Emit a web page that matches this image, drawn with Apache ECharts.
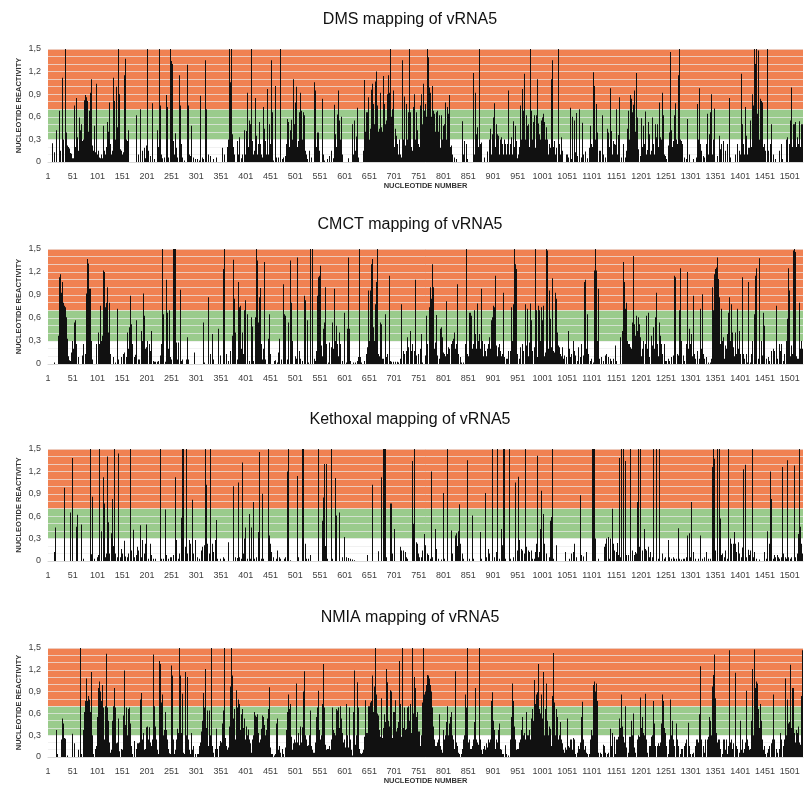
<!DOCTYPE html>
<html>
<head>
<meta charset="utf-8">
<script src="https://cdn.jsdelivr.net/npm/echarts@6/dist/echarts.min.js"></script>
<style>html,body{margin:0;padding:0;background:#fff}#chart{width:807px;height:786px}</style>
</head>
<body>
<div id="chart"></div>
<script>
// Panel titles
const panelTitles = ['DMS mapping of vRNA5', 'CMCT mapping of vRNA5', 'Kethoxal mapping of vRNA5', 'NMIA mapping of vRNA5'];
// Tick labels
const xTickLabels = ['1','51','101','151','201','251','301','351','401','451','501','551','601','651','701','751','801','851','901','951','1001','1051','1101','1151','1201','1251','1301','1351','1401','1451','1501'];
const yTickLabels = ['0','0,3','0,6','0,9','1,2','1,5'];
// Each value = reactivity of a 2-nucleotide bin, starting at nucleotide 1 (one row per 50 nt)
const binSize = 2;
const dmsValues = [
0,0,0,0,0.25,0,0.13,0,0.42,0,0,0.68,0.15,0,1.12,0.3,0,1.5,0.39,0.22,0.2,0.18,0.12,0.11,0.05,
0.05,0.75,0.2,0.85,0.33,0.15,0.59,0.42,0.5,0.28,0.3,0.82,0.89,0.86,0.81,0.4,0.68,0.92,1.1,0.22,0.1,0.15,0.48,0.13,1.04,
0.1,0.15,0.06,0.05,0.1,0.05,0.48,0.15,0.1,0.2,0.53,0.4,0.79,0.24,0.1,0.15,1.12,0.81,0.3,1.0,0.46,1.5,0.9,0.17,0.15,
0.1,0.13,1.15,1.37,0.3,0.28,0.42,0,0,0,0,0,0,0,0.62,0,0.1,0,0.7,0,0.15,0,0.19,0.05,0.22,
1.5,0.15,0,0.08,0,0.78,0,0.04,0,0,0.42,0.2,1.5,0.75,0.1,0.05,0,0.06,0,0.89,0.73,0.06,0,1.5,1.34,
1.3,0.28,0.1,0.38,0.19,0.06,0,1.15,0.75,0.24,0,0.06,0,0.02,0,0,1.29,0.75,0.1,0.08,0.48,0,0.06,0,0.04,
0,0.04,0,0.02,0.88,0,0.06,0.04,0,1.35,0.7,0,0.1,0,0.08,0,0,0.04,0,0,0.06,0,0,0,0,
0,0.19,0,0.1,0,0,0.2,0.3,1.5,1.06,1.5,0.37,0.2,0.1,0,0,0.28,0.1,0.33,0,0.05,0.1,0,0.42,0.1,
0.41,0.92,0.2,0.55,0.5,1.5,0.28,0.1,0.15,0.85,0.35,0.1,0.24,0.53,0.24,0.1,0.06,0.73,0.44,0.28,0.1,0.97,0.1,0.5,0.24,
0.2,1.35,0.66,0.02,0,1.01,0.06,0,0.06,0,1.5,0,0.04,0.06,0,0.08,0.24,0.57,0.53,0.2,0.42,0.56,0.3,1.1,0.5,
0.79,1.0,0.2,0.28,0.66,0.92,0.68,0.3,0.66,0.62,0.15,0.1,0.04,0,0.15,0,0.06,0,0,1.06,0.95,0.2,0.39,0.39,0.15,
0,0,0.84,0.1,0.02,0,0,0.04,0,0.08,0,0.15,0,0.05,0.76,0.37,0.2,0.63,0.95,0.55,0.3,0.6,0.1,0,0,
0,0,0,0.05,0,0,0,0.5,0.1,0.55,0.15,0.34,0.72,0,0.06,0,0,0,0,0.15,1.09,0.4,0.66,0.66,0.86,
0.3,0.44,0.96,1.04,0.77,0.5,1.07,1.2,0.75,0.4,0.44,0.92,0.46,0.4,1.14,0.77,0.5,0.55,0.9,1.15,0.92,1.5,0.6,0.7,0.95,
0.2,0.44,0.35,0.24,0.1,0.3,0.1,0.06,1.35,0.3,0.87,0.22,0.77,0.3,0.66,1.5,0.66,0.2,0.15,0.73,0.9,0.3,0.66,0.42,0.24,
0.2,0.75,0.9,0.5,1.04,0.68,0.77,0.6,1.5,1.39,0.99,0.92,0.6,1.01,0.68,0.64,0.4,0.66,0.68,0.4,0.62,0.19,0.62,0.3,0.48,
0.5,0.79,0.3,0.57,0.73,0.64,0.89,0.2,0.22,0.1,0,0.06,0,0.04,0,0,0,0,0,0.54,0.1,0.28,0,0.24,0.04,
0,0,0,0,0,1.18,0.1,0.92,0.37,0.46,0.2,1.5,0.24,0.26,0,0,0.06,0,0,0.14,0,0.3,0.44,0.1,0.37,
0.59,0.78,0.2,0.5,0.37,0.35,0.1,0.3,0.33,0.24,0.1,0.3,0.24,0.1,0.24,0.95,0.1,0.24,0.33,0.1,0.54,0.2,0.48,0.28,0.05,
0.1,0.2,0.75,0.3,0.97,0.68,1.17,0.3,0.62,0.48,0.5,0.2,1.5,0.68,0.3,0.53,0.62,0.19,0.3,0.62,1.1,0.51,0.37,0.3,0.55,
0.59,0.64,0.53,0.3,0.46,0.3,0.1,0.24,0.19,1.1,1.35,0.2,0.28,0.1,0.19,0,1.5,0.24,0.1,0.33,0.15,0,0,0,0.1,
0.1,0.06,0,0.72,0.04,0.6,0,0.55,0.13,0.65,0.08,0,0.7,0,0.06,0.52,0.1,0,0.14,0,0.05,0,0.19,0.48,0.24,
0.2,1.19,1.01,0.3,0.77,0.39,0,0.15,0.15,0,0.62,0.1,0,0.06,0,0.44,0.39,0.2,0.98,0.41,0.1,0.28,0.24,0.23,0.7,
0.1,0.36,0.86,0,0.06,0,0.24,0,0.06,0,0.15,0.44,0.68,0.3,0.89,0.84,0.66,0.76,0.95,0.4,1.18,0.59,0.17,0,0.08,
0.58,0.2,0.48,0.24,0.67,0.1,0.16,0.53,0.37,0.1,0.15,0.59,0.24,0.1,0.5,0.33,0.5,0.2,0.79,0.33,0.3,0.92,0.62,0.1,0.08,
0.04,0,0.22,0.39,1.46,0.42,0.2,0.28,0.62,0.78,0.3,0.24,1.15,1.5,0.3,0.28,0.24,0,0.06,0,0.04,0.57,0,0.1,0,
0,0,0.04,0,0,0.06,0.77,0.3,0.98,0.24,0.15,0,0.08,0.06,0,0.24,0.64,0.1,0.37,0.66,0.9,0.1,0.3,0.71,0.5,
0,0,0.08,0,0.35,0.17,0.24,0,0.28,0,0.15,0,0.24,0,0.85,0.06,0,0,0,0,0.1,0,0.24,0,0.15,
0.1,1.17,0.5,0.24,0.1,0.73,0.35,0.1,0.19,0.19,0.55,0.2,0.9,0.75,1.5,1.3,1.5,0.64,1.48,0.3,0.84,0.81,0.79,0.2,0.24,
0.15,0,1.5,0.15,0,0.24,0.5,0,0.1,0,0.04,0,0,0,0.15,0,0.24,0.04,0,0,0,0.3,0.33,0,0.24,
0.55,0.99,0.2,0.5,0.5,0.53,0.2,0.33,0.24,0.54,0.2,0.5,0.5
];
const cmctValues = [
0,0,0,0,0,0,0.02,0,0,0,0.37,1.13,1.17,0.93,1.07,0.8,0.76,0.74,0.61,0.33,0.1,0.05,0.04,0.15,0.3,
0.2,0.54,0.57,0.26,0,0.09,0,0,0,0.11,0.26,0,0.13,0.92,1.37,1.31,0.98,0.98,0.3,0.06,0,0,0,0,0.26,
0,0.41,0.26,0.76,0.3,0.37,1.22,1.2,0.74,0.8,1.0,0.41,0.8,0.13,0,0,0.09,0,0.02,0,0.72,0.06,0,0,0.09,
0,0.13,0.15,0,0.09,0.41,0.2,0.48,0.89,0.52,0.26,0,0.09,0.12,0.57,0,0.06,0.06,0,0.43,0.3,0.92,0.63,0.2,0.22,
0.3,0,0.26,0.17,0.43,0,0.04,0.03,0.03,0,0.03,0.04,0,0.11,0.26,1.5,0.65,0,0.03,1.1,0.67,0.2,0.7,0.09,0.06,
0,1.5,1.5,1.5,0.28,0.06,0.28,0,0.97,0.04,0,0.06,0,0,0,0.06,0.35,0.06,0,0,0,0,0,0.15,0,
0,0,0,0,0,0,0,0.54,0.02,0,0,0,0.87,0,0.13,0,0.39,0.06,0,0,0,0,0.46,0,0.11,
0,0,1.24,1.5,0,0.13,0,0.04,0,0.17,0,0.37,1.36,0.85,0.41,0,0.06,1.07,0.74,0.76,0.2,0.41,0.13,0.7,0.83,
0,0.65,0,0.04,0,0.61,0.49,0.04,0,0.61,1.5,1.35,0.54,0.87,0.99,0.26,0.06,0.2,1.33,0.06,0,0,0.33,0.65,0.13,
0,0,0,0,0.04,0.05,0,0.02,0.15,0.33,0,0.06,0,1.04,0.65,0.63,0,0.06,0.54,0,1.35,0.8,0.3,0,0,
0.1,0.07,1.39,0,0.17,0.07,0,0.04,0,0.89,0.83,0,0.57,0.02,0,1.5,0,1.5,0,0.07,0.04,0.17,0.89,1.13,1.15,
1.28,0.24,0.1,0.46,0.54,1.0,0.26,0,0.02,0.28,0,0.22,0.54,0.2,0.98,0.3,0.5,0.26,0.1,0.41,0.26,0,0.04,0,0.67,
0,0.02,0.46,1.39,0.46,0.04,0,0,0.02,0,0.02,0,0.04,0,0.09,1.5,0.09,0.02,0,0,0.04,0,0.13,0.22,0.96,
0.3,0.96,1.3,1.37,0.48,0.3,0.78,1.07,1.5,0.13,0.1,0.54,0.52,0.07,0.07,0,0.65,0.09,0.13,0,1.15,0.04,0.03,0,0.03,
0,0.03,0,0.03,0.02,0,0.07,0.78,0,0.17,0.13,0,0.17,0.35,0.22,0,0.43,0.17,0.26,0,0.17,1.1,0.11,0,0.13,
0,0.2,0.39,0.02,0,0,0.11,0.63,0.26,0,0.74,1.0,0.85,1.3,1.0,0.2,0.28,0.64,0.11,0,0.07,0.46,0.48,0.35,0.15,
0.13,0.1,0.82,0.13,0,0.22,0.2,0,0.26,0.3,0.33,0.41,0.2,0.26,1.04,0.13,0,0.09,0.02,0,0.02,0,0.26,1.5,0.13,
0.1,0.67,0.67,0.63,0.2,0.26,0.7,0.39,0.2,0.79,0.3,0.39,0.2,0.98,0.3,0.1,0.26,0.17,0.1,0.2,0.26,0.35,0.2,0.57,0.61,
0.76,0.74,1.15,0.24,0.1,0.22,0.26,0.17,0.1,0.13,0.93,0.09,0,0.07,0.07,0.17,0,0.17,0.74,0.3,0.78,1.5,1.3,1.24,0.13,
0,0.07,0.22,0,0.26,0.17,0,0.78,0.24,0.72,0.1,0.28,0.79,0.57,0.17,0,0.22,1.5,0.7,0.2,0.09,0.76,0.7,0.3,0.74,
0.57,0.76,0.1,0.15,1.5,1.48,0.2,0.96,0.59,0.22,1.12,0.17,0.15,0.93,0.85,0.41,0.24,0.22,0.13,0.1,0.22,0.07,0.11,0,0.09,
0,0.43,0.2,0.09,0.13,0,0.3,0.17,0.11,0,0.04,0.22,0,0.09,0.26,0,0.11,1.07,1.1,0.2,0.65,0.13,0,0.04,0.07,
0,0.02,1.22,1.5,1.22,0.3,0.98,0.07,0,0.09,0,0.04,0,0.11,0.13,0,0.09,0,0.07,0.04,0,0.07,0,0.24,0.04,
0,0,0,0.35,0,0.43,1.33,1.07,0.72,0.61,0.8,0.3,0.26,0.26,0.22,0.2,0.54,1.41,0.52,0.37,0.63,0.43,0.61,0.52,0.35,
0.1,0.2,0.3,0,0.26,0.63,0.2,0.67,0.09,0,0.37,0.24,0.48,0.2,0.61,0.93,0.26,0.1,0.54,0.37,0.26,0.13,0,0.26,0.04,
0.04,0,0.07,0.04,0,0.09,0,0.11,1.15,1.13,0,0.13,0.11,0.7,1.25,0.3,0,0.11,0.04,0,0.26,1.2,0.2,0.46,0.26,
0.39,0.1,0.89,0.13,0.07,0,0.17,0,0.07,0.72,0.2,0.91,0.13,0.07,0,0.09,0,0.02,0,0.02,0.07,1.0,0.7,0.9,1.17,
1.24,1.26,1.39,1.11,0.87,0.26,0.72,0.3,0.35,0.07,0.24,0.2,0.39,0.67,0.87,0.3,0.78,0.41,0.22,0.1,0.41,0.13,0.72,0.2,0.43,
0.13,0,1.13,0.13,0.07,0,0.13,0.02,1.07,0,0.02,0.13,0.3,0,0.65,1.15,1.25,0,0.07,1.38,0,0.3,0.11,0.67,0.5,
0,0.07,0,0.09,0.04,0,0.17,0,0.2,0.17,0,0.76,0.07,0,0.26,0.17,0.26,0,0.04,0.13,0,0.3,0.59,1.25,0.96,
0.1,0.24,0.13,1.48,1.5,1.46,0.1,0.07,0.07,0.8,0.2,0.3,0.2
];
const kethoxalValues = [
0,0,0,0,0,0,0.12,0.45,0,0,0,0,0,0,0,0,0.98,0,0,0,0,0,0.65,0,1.38,
0,0,0,0.46,0.62,0,0,0,0.49,0,0.03,0,0,0,0,0,0,1.5,0.09,0.86,0.36,0,0.03,0,0,
0.05,0.08,1.5,0,0.4,0,1.12,0.77,0.05,0.1,1.4,0.52,0.1,0,0.37,0.83,0.2,1.5,0.1,0,0.05,1.44,0,0.05,0.16,
0.1,0,0.27,0.06,0,0.05,0.1,0,1.5,0.14,0,0.42,0.05,0,0.08,0.19,0.14,0,0.48,0.05,0.28,0,0.1,0.23,0.49,
0,0.03,0,0.23,0.08,0,0.03,0,0.03,0,0,0,0,1.5,0.03,0,0.03,0,0.69,0.08,0,0.03,0,0.05,0.05,
0,0.08,0,1.12,0.28,0,0.03,0.1,0,0.58,0.1,1.5,1.5,0,0.19,1.5,0.1,0,0.28,0.23,0,0.82,0.1,0,0.28,
0,0.05,0,0.03,0,0.14,0.19,0,0.21,1.5,1.02,0.23,0,0.1,1.5,0,0.23,0.12,0,0.28,0.55,0.03,0,0,0.03,
0,0,0.05,0.03,0,0,0,0.25,0,0,0,0,1.0,0,0.05,0,0.04,1.05,0.05,0,0.03,1.32,0.1,0.3,0.45,
0,0.03,0,0.63,0.03,0.45,0,0.79,0.03,0,0.05,0,0.39,1.46,0,0.03,0.9,0.03,0,0,0,0,1.5,0.34,0.23,
0,0.12,0,0.05,0,0,0.03,0.14,0,0.05,0.03,0,0,0,0.03,0.05,0,1.2,1.5,0,0.01,0,0,0,0,
0,0,1.14,0.05,0,0,0,1.5,1.5,0,0.23,0.03,0,0.03,0,0.08,0,0,0,0,0,0,0,1.5,0,
0,0,0.54,0.85,1.3,0.2,1.3,0.03,0,0,0,1.5,0.03,0,0,1.11,0.61,0,0,0.65,0,0,0.05,0,0.32,
0,0.05,0,0.04,0,0.03,0,0.02,0,0.01,0,0,0,0,0,0,0,0,0,0,0,0,0,0.08,0,
0,0,0,1.02,0,0,0,0,0,0.13,0,0,1.12,0,1.5,1.5,1.5,0.05,0,0,0,0.77,0.77,0.1,0,
0.43,0,0,0,0,0,0.19,0.14,0,0.14,0,0.12,0.05,0.03,0,0,0,0,1.34,0.5,1.5,0,0.25,0.23,0.1,
0.05,0,0.05,0.14,0,0.36,0.21,0,0.1,0.08,0,0.03,1.2,0.05,0,0,0.43,0.16,0,0.03,0,0,0.02,0,0.91,
0.03,0,0,1.5,0.03,0,0,0,0.41,0.1,0,0,0.34,0.37,0.2,0.4,0.76,0.23,0,0.1,0.03,0,0,0,1.35,
0,0.03,0,0,0.61,0.03,0,0,0,0,0,0,0.39,0.03,0,0,0,0.91,0.05,0,0.16,0.1,0,0,1.5,
0,0.05,0,0.12,1.5,0,0.03,0,0.43,0.21,1.5,1.5,0.03,0,0,0,1.5,0.03,0,0,0.05,0,1.05,0,0.14,
1.13,0.28,0,0.16,0.14,0,0.1,1.5,0.19,0,0.14,0.12,0,0.14,0.03,0,0.03,0.12,0.23,0,1.41,0.05,0.12,0.43,0.94,
0,0.63,0.23,0,0.1,0,0,0.05,0.54,0.59,1.5,0.03,0,0,0.21,0,0,0,0,0,0,0,0,0.12,0,
0,0,0.03,0,0.1,0,0.12,0.23,0,0.05,0,0,0,0.88,0.08,0,0.06,0,0,0.12,0,0,0,0,0,
1.5,1.5,1.5,0.3,0,0,0.03,0,0,0,0,0,0.19,0.23,0.3,0,0.32,0.03,0.3,0,0.7,0.23,0.14,0,0.12,
0.24,0.08,1.38,0.05,1.5,0,1.5,0,1.34,0,0.08,0,0.08,0,1.5,0,0.14,0,0.08,0.12,0.1,0.79,1.5,0.19,1.5,
0,0.14,0,0.43,0.16,0.14,0,0.19,0.05,0.12,0,0.05,1.5,0,0,1.5,0,0.03,1.5,0,0,0.1,0,0.03,0.05,
0,0,0.28,0.05,0,0.03,0,0.05,0.03,0,0.03,0,0.44,0.03,0,0.02,0,0.03,0.03,0,0.05,0.34,0,0.37,0.05,
0.79,0,0.12,0,0.03,0,0,0.03,0,0.34,0,0.03,0,0.05,0,0.12,0,0.03,0,0.03,0,1.26,1.5,0.23,1.37,
0.14,0,1.5,0,1.5,0.57,0.08,0.1,0,0.05,0.14,0,0.03,1.5,0,0.3,0.23,0,0.23,0.39,0.23,0.12,0,0.25,0.1,
0,0.05,0.18,1.23,0,1.29,0.05,0,0.15,0.08,0.14,0,1.5,0.05,0.12,0,0.03,0,0,0.02,0,0,0,0,0.12,
0,0.03,0.4,0,0.23,1.2,0.83,0,0.03,0.08,0.05,0,0.08,0.05,0.03,0,0.05,1.26,0.1,0,0.05,0.03,1.35,0.05,0,
0.03,0.05,0,0,1.28,0.05,0,0.1,0.36,1.5,0.46,0.23,0.1
];
const nmiaValues = [
0,0,0,0,0,0,0,0,0.37,0.04,0,0,0,0.24,0.53,0.46,0.26,0.25,0,0.02,0,0,0,0,0.32,
0,0.19,0,0,0,0.1,0,1.5,0.04,0,0.37,0.62,0.77,1.08,0.77,0.84,0.79,0.62,1.17,0.3,0.24,0.04,0,0.11,0.15,
0.55,0.95,1.04,0.9,0.77,0.99,0.68,0.24,0.7,1.42,0.68,0.5,0.2,0.06,0.1,0.5,0.7,0.95,0.68,0.19,0.2,0.53,0.08,0,0.11,
0.1,0.57,1.19,0.44,0.68,0.3,0.66,0.68,0.46,0.15,0.04,0,0.22,0,0.11,0.19,0.19,0.2,0.79,0.88,0.24,0.33,0.1,0.11,0.41,
0.42,0.24,0.41,0.2,0.15,0.24,1.41,0.7,0.42,0.24,0.1,0.04,1.32,1.28,0.75,0.86,0.3,0.37,0.62,0.37,0.24,0.11,0.05,0.04,1.26,
1.12,0.24,0.04,0.1,0.24,0.39,0.33,1.5,1.12,0.3,0.33,0.87,0.06,0.04,1.17,0.3,1.1,0.24,0.1,0.04,0.33,0.1,0.15,0,0.04,
0,0.04,0.04,0.15,0.2,0.35,0.5,0.88,0.68,1.21,0.4,0.64,0.15,0.64,0.3,1.5,0.15,0.06,0,0.11,0.39,0.11,0,0.15,0.22,
0.2,0.46,0.64,1.5,0.26,0.15,0.1,0.13,0.42,0.97,1.5,1.12,0.53,0.66,0.24,0.92,0.68,0.79,0.73,0.37,0.59,0.66,0.4,0.53,0.24,
0.42,0.3,0.38,0.24,0.19,0.06,0.24,0.3,0.62,0.57,0.55,0.59,0.33,0.2,0.24,0.39,0.57,0.55,0.44,0.3,0.37,0.53,0.66,0.96,0.13,
0,0.04,0.04,0,0.02,0.04,0.46,0.53,0.1,0.15,0.06,0,0.11,0.04,0,0.13,0.37,0.62,0.86,0.66,0.73,0.28,0.1,0.19,0.24,
0.2,1.01,0.2,0.33,0.16,0.42,0.2,0.41,0.9,1.18,0.3,0.24,0.15,0.16,0.3,0.64,0.15,0.1,0.06,0.06,0.2,0.55,0.68,0.91,0.37,
0.24,0.3,0.73,1.28,0.68,0.17,0.1,0.11,0.11,0.15,0.1,0.24,0.68,0.37,0.33,0.3,0.66,0.64,0.68,0.4,0.7,0.53,0.33,0.2,0.24,
0.13,0.73,0.3,0.13,0.68,0.24,0.1,0.02,0.62,1.19,0.17,0.3,1.03,0.68,0.24,0.11,0.05,0.04,0.06,0.1,0.28,0.78,0.33,0.33,0.7,
0.7,0.75,0.77,1.12,0.62,0.97,1.5,0.86,0.6,0.57,0.37,0.28,0.81,0.26,0.4,0.59,0.48,1.21,1.03,0.5,0.42,0.92,0.9,0.26,0.62,
0.62,0.78,0.35,0.4,0.48,1.32,0.73,0.28,1.5,0.4,0.68,0.37,0.39,0.68,0.7,0.5,0.73,0.33,1.5,0.6,1.1,0.95,0.55,0.62,0.35,
0.35,0.15,0.3,0.75,1.5,0.86,0.9,0.99,1.13,1.12,1.08,0.99,0.9,0.68,0.42,0.24,0.15,0.15,0.2,0.24,0.59,0.15,0.1,0.06,0.37,
0.24,0.3,0.48,0.42,0.7,0.3,0.46,0.55,0.62,0.3,0.24,0.11,1.18,0.2,0.15,0.06,0.04,0,0.04,0.11,0.24,0.3,0.86,0.68,1.5,
0.2,0.24,0.11,0.11,0.15,0.24,0.48,0.95,0.24,0.2,0.17,1.5,0.24,0.1,0.04,0.11,0.15,0.1,0.19,0.13,0.24,0.2,0.24,0.77,0.89,
0.5,0.37,0.11,0.24,0.2,0.37,0.46,0.11,0.1,0.04,0.04,0,0.16,0.04,0,0.02,0,0.24,0.55,1.01,0.77,0.42,0.24,0.1,0.11,
0.11,0.2,0.24,0.37,0.55,0.3,0.33,0.24,0.62,0.3,0.3,0.37,0.24,0.53,0.66,0.5,1.06,0.73,0.68,0.86,0.89,1.28,0.66,0.6,0.86,
0.53,1.17,0.3,0.66,1.01,0.5,0.3,0.42,0.39,0.15,0.84,1.43,0.75,0.3,0.66,0.55,0.24,0.3,0.48,0.24,0.19,0.1,0.06,0.13,0.1,
0.53,0.15,0.13,0.24,0.24,0.1,0.26,0.24,0.04,0,0.06,0.15,0.11,0.2,0.55,0.76,0.24,0.1,0.15,0.06,0.04,0,0.04,0.24,0.37,
0.3,0.99,1.04,0.9,1.01,0.77,0.06,0,0.06,0.04,0,0.17,0.15,0.06,0,0.04,0.06,0,0.39,0.15,0.33,0,0.28,0.04,0.24,
0.24,0.28,0.53,0.4,0.86,0.42,0.28,0.2,0.7,0.24,0.13,0,0.06,0.28,0.28,0.5,0.3,0.6,0.13,0.06,0,0.24,0.3,0.28,0.82,
0.4,0.55,0.33,0.3,0.87,0.24,0.06,0,0.15,0.15,0.28,0.3,0.77,0.46,0.15,0,0.15,0.19,0.15,0.2,0.46,0.86,0.77,0.4,0.33,
0.15,0,0.04,0.24,0.79,0.3,0.5,0.24,0.15,0,0.46,0.24,0.15,0,0.04,0.11,0.11,0,0.15,0.19,0.24,0,0.47,0.15,0.04,
0,0.04,0.06,0,0.15,0.24,0.24,0.2,0.59,1.25,0.24,0,0.15,0.06,0.24,0,0.24,0.28,0.55,0.5,0.3,0.97,1.13,1.32,1.41,
0.81,0.33,0.2,0.24,0.24,0.11,0,0.04,0.24,0.24,0.1,0.24,0.04,0.15,1.47,0.2,0.24,0.11,0.19,0,1.16,0.15,0.11,0,0.06,
0.5,0.1,0.24,0.06,0.11,0.2,0.91,0.24,0.15,0.1,0.11,0.5,1.21,0.3,1.48,0.95,1.04,1.01,0.66,0.4,0.73,0.5,0.24,0.1,0.15,
0.04,0,0.06,0.11,0.15,0,0.19,0.24,0.86,0.24,0,0.11,0.06,0,0.11,0.33,0.24,0,0.15,0.24,1.08,0.3,0.79,0.46,0.48,
1.27,0.4,0.95,0.95,0.33,0.2,0.37,0.33,0.42,0.2,0.17,0.84,1.47
];

const panelValues = [dmsValues, cmctValues, kethoxalValues, nmiaValues];
const gridTops = [49, 249, 449, 648];
const gridHeights = [113, 115, 112, 113];
const titleTops = [12, 217, 412, 610];
const showXName = [true, false, false, true];

const WHITE = '#ffffff', GREEN = '#9acb8c', ORANGE = '#f08152';
// one colour per 0.1 step of the y axis, from 0 to 1.5
const bandColors = [WHITE, WHITE, WHITE, GREEN, GREEN, GREEN, GREEN,
  ORANGE, ORANGE, ORANGE, ORANGE, ORANGE, ORANGE, ORANGE, ORANGE];

const FONT = 'Liberation Sans, Arial, sans-serif';

// bars drawn through the axis scales, snapped to whole pixel columns
function renderBar(params, api) {
  const x = api.value(0), v = api.value(1);
  if (!v) return null;
  const base = api.coord([x, 0]);
  const top = api.coord([x, v]);
  return {
    type: 'rect',
    shape: { x: Math.floor(base[0]), y: top[1], width: 1, height: base[1] - top[1] },
    style: { fill: '#111111' }
  };
}

const option = {
  animation: false,
  backgroundColor: '#ffffff',
  title: panelTitles.map((t, i) => ({
    text: t, left: 410, top: titleTops[i], textAlign: 'center', padding: 0,
    textStyle: { fontSize: 16, fontWeight: 'normal', color: '#111', fontFamily: FONT }
  })),
  grid: panelValues.map((_, i) => ({ left: 48, right: 4, top: gridTops[i], height: gridHeights[i] })),
  xAxis: panelValues.map((_, i) => ({
    gridIndex: i, type: 'value', min: 0, max: 1527, interval: 50,
    axisLine: { show: true, lineStyle: { color: '#d9d9d9' } },
    axisTick: { show: false },
    splitLine: { show: false },
    axisLabel: {
      margin: 10, fontSize: 9, color: '#404040', fontFamily: FONT,
      formatter: v => (v % 50 === 0 && xTickLabels[v / 50] !== undefined) ? xTickLabels[v / 50] : ''
    },
    name: showXName[i] ? 'NUCLEOTIDE NUMBER' : '',
    nameLocation: 'middle', nameGap: 20, nameMoveOverlap: false,
    nameTextStyle: { fontSize: 7.5, fontWeight: 'bold', color: '#333', fontFamily: FONT }
  })),
  yAxis: panelValues.map((_, i) => ({
    gridIndex: i, type: 'value', min: 0, max: 1.5, interval: 0.1,
    axisLine: { show: false }, axisTick: { show: false },
    axisLabel: {
      margin: 7, fontSize: 9, color: '#404040', fontFamily: FONT,
      formatter: v => { const k = Math.round(v * 10); return k % 3 === 0 ? yTickLabels[k / 3] : ''; }
    },
    splitLine: { show: true, lineStyle: { color: 'rgba(235,235,235,0.7)', width: 1 } },
    splitArea: { show: true, areaStyle: { color: bandColors, opacity: 1 } },
    name: 'NUCLEOTIDE REACTIVITY', nameLocation: 'middle', nameGap: 25, nameRotate: 90, nameMoveOverlap: false,
    nameTextStyle: { fontSize: 7.5, fontWeight: 'bold', color: '#333', fontFamily: FONT }
  })),
  series: panelValues.map((vals, i) => ({
    type: 'custom', xAxisIndex: i, yAxisIndex: i, silent: true,
    renderItem: renderBar,
    encode: { x: 0, y: 1 },
    data: vals.map((v, j) => [binSize * j + 1, v])
  }))
};
echarts.init(document.getElementById('chart'), null, { renderer: 'canvas' }).setOption(option);
</script>
</body>
</html>
